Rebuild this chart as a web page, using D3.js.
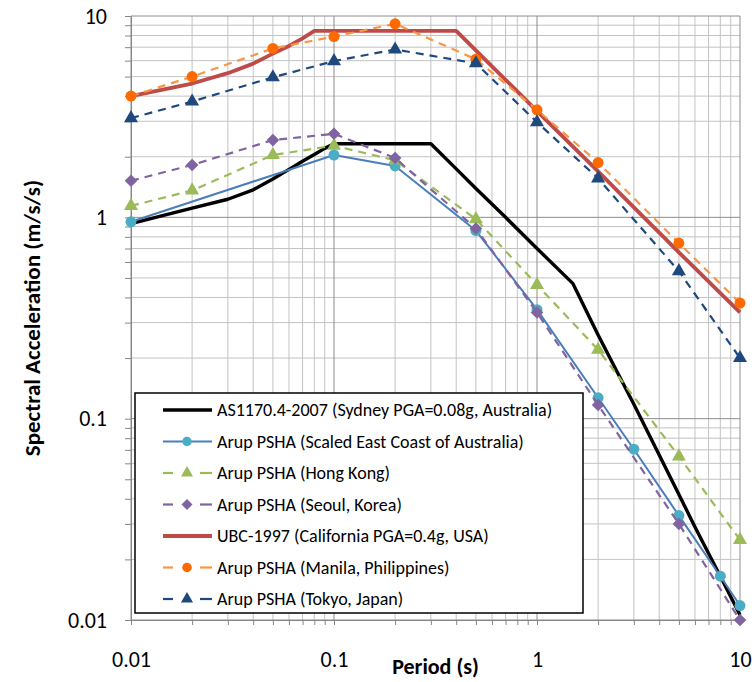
<!DOCTYPE html>
<html>
<head>
<meta charset="utf-8">
<script src="https://cdn.jsdelivr.net/npm/d3@7"></script>
<style>
  body { margin: 0; background: #fff; }
  svg { display: block; font-family: Carlito, Calibri, Lato, sans-serif; }
</style>
</head>
<body>
<svg id="chart" width="754" height="682"></svg>
<script>
// decade labels on both axes
const tickValues = [0.01, 0.1, 1, 10];
const tickLabels = ["0.01", "0.1", "1", "10"];

// AS1170.4-2007 (Sydney)
const asPeriod = [0.01, 0.02, 0.03, 0.04, 0.05, 0.06, 0.07, 0.08, 0.09, 0.1, 0.3, 0.4, 0.5, 0.7, 1, 1.5, 2, 3, 4, 5, 6, 8, 10];
const asSa = [0.93, 1.11, 1.23, 1.37, 1.55, 1.73, 1.9, 2.05, 2.2, 2.32, 2.32, 1.74, 1.39, 1.0, 0.7, 0.47, 0.26, 0.118, 0.066, 0.042, 0.029, 0.0165, 0.0106];

// Arup PSHA scaled east coast
const eastPeriod = [0.01, 0.1, 0.2, 0.5, 1, 2, 3, 5, 8, 10];
const eastSa = [0.95, 2.04, 1.8, 0.86, 0.348, 0.127, 0.0705, 0.033, 0.0165, 0.0118];

const pshaPeriod = [0.01, 0.02, 0.05, 0.1, 0.2, 0.5, 1, 2, 5, 10];
const hkSa = [1.14, 1.36, 2.04, 2.27, 1.92, 0.98, 0.462, 0.22, 0.065, 0.025];
const seoulSa = [1.52, 1.82, 2.42, 2.6, 1.97, 0.88, 0.337, 0.117, 0.03, 0.01];
const manilaSa = [4.0, 5.0, 6.9, 7.9, 9.15, 6.1, 3.42, 1.87, 0.745, 0.375];
const tokyoSa = [3.11, 3.76, 4.96, 5.97, 6.82, 5.82, 2.97, 1.56, 0.54, 0.2];

// UBC-1997
const ubcPeriod = [0.01, 0.02, 0.03, 0.04, 0.05, 0.06, 0.07, 0.08, 0.4, 0.5, 0.6, 0.8, 1, 1.5, 2, 3, 4, 5, 6, 8, 10];
const ubcSa = [4.0, 4.62, 5.2, 5.8, 6.5, 7.1, 7.75, 8.43, 8.43, 6.75, 5.62, 4.22, 3.37, 2.25, 1.69, 1.12, 0.84, 0.67, 0.56, 0.42, 0.337];

const zip = (p, s) => p.map((t, i) => ({ t, v: s[i] }));

// square turned 45deg, Excel style diamond
const diamond = { draw(ctx, size) { const r = Math.sqrt(size / 2); ctx.moveTo(0, -r); ctx.lineTo(r, 0); ctx.lineTo(0, r); ctx.lineTo(-r, 0); ctx.closePath(); } };

const series = [
  { name: "AS1170.4-2007 (Sydney PGA=0.08g, Australia)", data: zip(asPeriod, asSa), color: "#000000", width: 3.4, dash: null, marker: null },
  { name: "Arup PSHA (Scaled East Coast of Australia)", data: zip(eastPeriod, eastSa), color: "#4a7ebb", width: 2, dash: null, marker: d3.symbolCircle, mcolor: "#4bacc6", msize: 95 },
  { name: "Arup PSHA (Hong Kong)", data: zip(pshaPeriod, hkSa), color: "#9bbb59", width: 2.2, dash: "8,6", marker: d3.symbolTriangle, mcolor: "#9bbb59", msize: 85 },
  { name: "Arup PSHA (Seoul, Korea)", data: zip(pshaPeriod, seoulSa), color: "#8064a2", width: 2.2, dash: "8,6", marker: diamond, mcolor: "#8064a2", msize: 80 },
  { name: "UBC-1997 (California PGA=0.4g, USA)", data: zip(ubcPeriod, ubcSa), color: "#be4b48", width: 3.8, dash: null, marker: null },
  { name: "Arup PSHA (Manila, Philippines)", data: zip(pshaPeriod, manilaSa), color: "#f79646", width: 2.2, dash: "8,6", marker: d3.symbolCircle, mcolor: "#ff6a00", msize: 95 },
  { name: "Arup PSHA (Tokyo, Japan)", data: zip(pshaPeriod, tokyoSa), color: "#1f497d", width: 2.2, dash: "8,6", marker: d3.symbolTriangle, mcolor: "#1f497d", msize: 85 }
];

const margin = { top: 16, right: 14, bottom: 62, left: 131 },
      width = 754 - margin.left - margin.right,
      height = 682 - margin.top - margin.bottom;

const svg = d3.select("#chart")
  .append("g")
  .attr("transform", `translate(${margin.left},${margin.top})`);

const x = d3.scaleLog().domain([0.01, 10]).range([0, width]);
const y = d3.scaleLog().domain([0.01, 10]).range([height, 0]);

const allTicks = x.ticks();
const isMajor = d => tickValues.some(t => Math.abs(t - d) < 1e-9);

// grid: minor first, then major on top
const grid = svg.append("g");
grid.selectAll(".vminor").data(allTicks.filter(d => !isMajor(d)))
  .enter().append("line")
  .attr("x1", d => x(d)).attr("x2", d => x(d))
  .attr("y1", 0).attr("y2", height)
  .attr("stroke", "#c3c3c3").attr("stroke-width", 1);
grid.selectAll(".hminor").data(allTicks.filter(d => !isMajor(d)))
  .enter().append("line")
  .attr("y1", d => y(d)).attr("y2", d => y(d))
  .attr("x1", 0).attr("x2", width)
  .attr("stroke", "#c3c3c3").attr("stroke-width", 1);
grid.selectAll(".vmajor").data(tickValues)
  .enter().append("line")
  .attr("x1", d => x(d)).attr("x2", d => x(d))
  .attr("y1", 0).attr("y2", height)
  .attr("stroke", "#8c8c8c").attr("stroke-width", 1);
grid.selectAll(".hmajor").data(tickValues)
  .enter().append("line")
  .attr("y1", d => y(d)).attr("y2", d => y(d))
  .attr("x1", 0).attr("x2", width)
  .attr("stroke", "#8c8c8c").attr("stroke-width", 1);

// axes
const fmt = d => tickLabels[tickValues.findIndex(t => Math.abs(t - d) < 1e-9)] || "";

const yAxis = svg.append("g")
  .call(d3.axisLeft(y).tickValues(allTicks).tickSize(6).tickPadding(18).tickFormat(fmt));
const xAxis = svg.append("g")
  .attr("transform", `translate(0,${height})`)
  .call(d3.axisBottom(x).tickValues(allTicks).tickSize(5).tickPadding(26).tickFormat(fmt));

[xAxis, yAxis].forEach(a => {
  a.select(".domain").attr("stroke", "#868686");
  a.selectAll(".tick line").attr("stroke", "#868686");
  a.selectAll(".tick text")
    .style("font-family", "Carlito, Calibri, Lato, sans-serif")
    .style("font-size", "22px")
    .attr("fill", "#000");
});

// series
const line = d3.line().x(d => x(d.t)).y(d => y(d.v));

series.forEach(s => {
  svg.append("path")
    .datum(s.data)
    .attr("fill", "none")
    .attr("stroke", s.color)
    .attr("stroke-width", s.width)
    .attr("stroke-dasharray", s.dash)
    .attr("stroke-linejoin", "round")
    .attr("d", line);
  if (s.marker) {
    svg.selectAll(null)
      .data(s.data)
      .enter().append("path")
      .attr("transform", d => `translate(${x(d.t)},${y(d.v)})`)
      .attr("d", d3.symbol().type(s.marker).size(s.msize))
      .attr("fill", s.mcolor);
  }
});

// legend
const legend = svg.append("g").attr("transform", "translate(4,377)");
legend.append("rect")
  .attr("width", 448).attr("height", 220)
  .attr("fill", "#fff").attr("stroke", "#000").attr("stroke-width", 1.5);

series.forEach((s, i) => {
  const row = legend.append("g").attr("transform", `translate(0,${17 + i * 31.5})`);
  const segs = s.dash ? [[28, 38], [65, 77]] : [[28, 77]];
  segs.forEach(([a, b]) => {
    row.append("line")
      .attr("x1", a).attr("x2", b)
      .attr("stroke", s.color)
      .attr("stroke-width", s.width);
  });
  if (s.marker) {
    row.append("path")
      .attr("transform", "translate(52,0)")
      .attr("d", d3.symbol().type(s.marker).size(s.msize * 0.75))
      .attr("fill", s.mcolor);
  }
  row.append("text")
    .attr("x", 82).attr("dy", "0.35em")
    .style("font-size", "18px")
    .text(s.name);
});

// axis titles
svg.append("text")
  .attr("x", width / 2)
  .attr("y", height + 54)
  .attr("text-anchor", "middle")
  .style("font-size", "22px")
  .style("font-weight", "bold")
  .text("Period (s)");

svg.append("text")
  .attr("transform", `translate(${-99},${height / 2}) rotate(-90)`)
  .attr("text-anchor", "middle")
  .attr("dy", "0.35em")
  .style("font-size", "23px")
  .style("font-weight", "bold")
  .text("Spectral Acceleration (m/s/s)");
</script>
</body>
</html>
